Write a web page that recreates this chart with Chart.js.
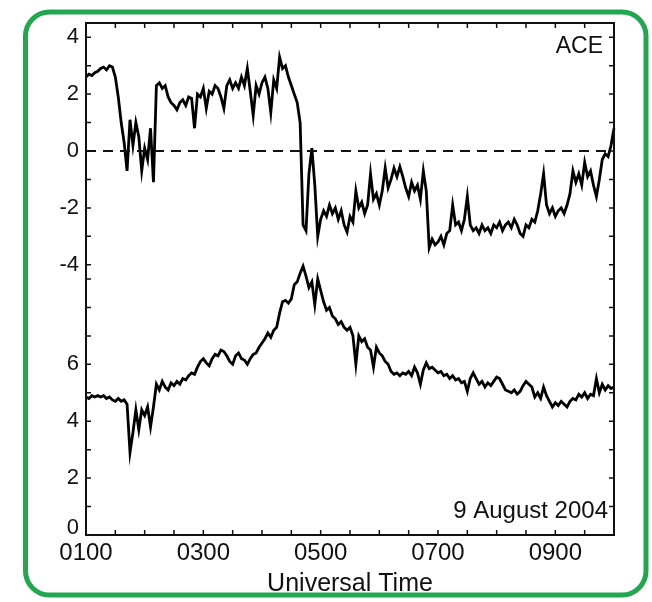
<!DOCTYPE html>
<html>
<head>
<meta charset="utf-8">
<script src="https://cdn.jsdelivr.net/npm/chart.js@4.4.1/dist/chart.umd.min.js"></script>
<style>
  html, body { margin: 0; padding: 0; background: #fff; }
</style>
</head>
<body>
<canvas id="myChart" width="652" height="602"></canvas>
<script>
// sampled every 3 minutes from 0100 to 1000 UT
const stepMinutes = 3;

const upperVals = [
  2.6, 2.7, 2.65, 2.75, 2.8, 2.9, 2.95, 2.85, 3.0, 2.95,
  2.6, 1.9, 1.0, 0.3, -0.7, 1.1, 0.2, 1.0, 0.5, -0.7,
  0.1, -0.3, 0.8, -1.1, 2.3, 2.4, 2.2, 2.3, 1.9, 1.7,
  1.6, 1.45, 1.7, 1.8, 1.6, 1.9, 1.85, 0.8, 2.0, 1.9,
  2.2, 1.5, 2.1, 2.0, 2.3, 2.2, 1.9, 1.5, 2.3, 2.5,
  2.2, 2.4, 2.2, 2.6, 2.3, 2.9, 2.1, 1.25, 2.3, 2.0,
  2.4, 2.6, 2.2, 1.35, 2.5, 2.2, 3.3, 2.9, 3.0, 2.6,
  2.3, 2.0, 1.7, 1.0, -2.6, -2.8, -0.8, 0.1, -1.2, -3.0,
  -2.4, -2.1, -2.3, -1.9, -2.2, -2.0, -2.4, -2.1, -2.6, -2.85,
  -2.3, -2.5, -1.4, -2.0, -1.8, -2.2, -1.9, -0.8, -1.7, -1.5,
  -1.9, -1.4, -0.6, -1.3, -1.0, -0.6, -0.9, -0.55, -0.9, -1.3,
  -1.6, -1.1, -1.4, -1.2, -1.7, -0.7, -1.4, -3.4, -3.1, -3.3,
  -3.2, -3.0, -3.3, -2.9, -2.8, -1.9, -2.6, -2.5, -2.8, -2.4,
  -1.6, -2.6, -2.8, -2.7, -2.9, -2.6, -2.8, -2.7, -2.9, -2.6,
  -2.7, -2.5, -2.8, -2.6, -2.5, -2.7, -2.4, -2.6, -2.9, -3.0,
  -2.6, -2.7, -2.4, -2.5, -2.1, -1.5, -0.8, -1.9, -2.2, -2.0,
  -2.3, -2.1, -2.0, -2.2, -1.9, -1.5, -0.7, -1.1, -0.8, -1.2,
  -0.4, -0.9, -0.7, -1.2, -1.6, -1.0, -0.3, -0.1, -0.2, 0.2,
  0.8
];

const lowerVals = [
  4.85, 4.8, 4.9, 4.85, 4.9, 4.85, 4.9, 4.8, 4.85, 4.75,
  4.7, 4.8, 4.7, 4.75, 4.6, 2.9, 3.6, 4.4, 3.7, 4.4,
  4.2, 4.5, 3.8, 4.5, 5.3, 5.1, 5.4, 5.2, 5.1, 5.35,
  5.25, 5.4, 5.3, 5.5, 5.45, 5.6, 5.7, 5.65, 5.9, 6.1,
  6.2, 6.05, 5.95, 6.2, 6.35, 6.3, 6.5, 6.45, 6.3, 6.1,
  6.0, 6.3, 6.4, 6.2, 6.15, 6.0, 6.2, 6.35, 6.4, 6.6,
  6.75, 6.9, 7.1, 6.95, 7.2, 7.3, 7.8, 8.2, 8.25, 8.15,
  8.3, 8.8, 8.9, 9.2, 9.45, 9.1, 8.7, 8.9, 8.1, 9.0,
  8.6, 8.2, 7.9, 8.0, 7.7, 7.6, 7.4, 7.5, 7.3, 7.2,
  7.3, 7.0, 6.0, 7.0, 6.8, 6.9, 6.6, 6.5, 5.9, 6.6,
  6.4, 6.3, 6.1, 6.0, 5.75, 5.65, 5.7, 5.6, 5.7, 5.65,
  5.75, 5.6, 5.9, 5.7, 5.3, 5.8, 6.05, 5.85, 5.9, 5.8,
  5.7, 5.75, 5.6, 5.65, 5.5, 5.6, 5.45, 5.5, 5.35, 5.4,
  5.05, 5.5, 5.7, 5.5, 5.3, 5.4, 5.2, 5.35, 5.25, 5.4,
  5.55, 5.5, 5.3, 5.1, 5.05, 5.0, 5.1, 4.95, 5.05, 5.25,
  5.4, 5.3, 5.2, 4.85, 5.0, 4.8, 5.2, 4.9, 4.7, 4.5,
  4.65, 4.55, 4.7, 4.6, 4.5, 4.7, 4.8, 4.75, 4.95, 4.85,
  5.0, 4.8, 4.95, 4.9, 5.5, 5.0, 5.3, 5.1, 5.25, 5.15,
  5.2
];

const hours = upperVals.map((v, i) => 1 + i * stepMinutes / 60);

// axis ticks
const xTickHours = [1, 1.5, 2, 2.5, 3, 3.5, 4, 4.5, 5, 5.5, 6, 6.5, 7, 7.5, 8, 8.5, 9, 9.5, 10];
const xLabelHours = [1, 3, 5, 7, 9];
const upperTicks = [-4, -3, -2, -1, 0, 1, 2, 3, 4];
const upperLabels = [-4, -2, 0, 2, 4];
const lowerTicks = [0, 1, 2, 3, 4, 5, 6, 7, 8, 9];
const lowerLabels = [2, 4, 6];   // the 0 sits above the corner, drawn in the plugin

const FONT = '"Liberation Sans", Arial, Helvetica, sans-serif';
const INK = '#111';

const framePlugin = {
  id: 'framePlugin',
  beforeDraw(chart) {
    const c = chart.ctx;
    c.save();
    c.strokeStyle = '#22a750';
    c.lineWidth = 5;
    c.beginPath();
    c.roundRect(25.5, 12, 620.5, 583, 24);
    c.stroke();
    c.restore();
  },
  afterDraw(chart) {
    const c = chart.ctx;
    const a = chart.chartArea;
    const s = chart.scales;
    c.save();
    c.strokeStyle = INK;
    c.lineWidth = 1.5;
    c.beginPath();
    xTickHours.forEach(h => {
      const px = s.x.getPixelForValue(h);
      c.moveTo(px, a.bottom); c.lineTo(px, a.bottom - 5);
      c.moveTo(px, a.top); c.lineTo(px, a.top + 5);
    });
    upperTicks.forEach(v => {
      const py = s.yU.getPixelForValue(v);
      c.moveTo(a.left, py); c.lineTo(a.left + 5, py);
      c.moveTo(a.right, py); c.lineTo(a.right - 5, py);
    });
    lowerTicks.forEach(v => {
      const py = s.yL.getPixelForValue(v);
      c.moveTo(a.left, py); c.lineTo(a.left + 5, py);
      c.moveTo(a.right, py); c.lineTo(a.right - 5, py);
    });
    c.stroke();
    c.lineWidth = 2;
    c.strokeRect(a.left, a.top, a.right - a.left, a.bottom - a.top);

    c.fillStyle = INK;
    c.textAlign = 'right';
    c.textBaseline = 'alphabetic';
    c.font = '22px ' + FONT;
    c.fillText('0', a.left - 7, s.yL.getPixelForValue(0) - 1);
    c.font = '23px ' + FONT;
    c.fillText('ACE', a.right - 11, a.top + 30);
    c.font = '24px ' + FONT;
    c.fillText('9 August 2004', a.right - 6, a.bottom - 17);
    c.restore();
  }
};

function setTicks(list) {
  return scale => { scale.ticks = list.map(v => ({ value: v })); };
}

const noGrid = { display: false, drawTicks: false, tickLength: 0 };

const ctx = document.getElementById('myChart').getContext('2d');
const myChart = new Chart(ctx, {
  type: 'line',
  data: {
    datasets: [
      {
        label: 'zero',
        data: [{ x: 1, y: 0 }, { x: 10, y: 0 }],
        yAxisID: 'yU',
        borderColor: INK,
        borderWidth: 2,
        borderDash: [10, 7],
        pointRadius: 0
      },
      {
        label: 'upper',
        data: hours.map((h, i) => ({ x: h, y: upperVals[i] })),
        yAxisID: 'yU',
        borderColor: '#000',
        borderWidth: 2.8,
        pointRadius: 0,
        tension: 0,
        clip: false
      },
      {
        label: 'lower',
        data: hours.map((h, i) => ({ x: h, y: lowerVals[i] })),
        yAxisID: 'yL',
        borderColor: '#000',
        borderWidth: 2.8,
        pointRadius: 0,
        tension: 0,
        clip: false
      }
    ]
  },
  options: {
    responsive: false,
    animation: false,
    devicePixelRatio: 1,
    layout: { padding: { left: 0, top: 23, right: 38, bottom: 0 } },
    plugins: {
      legend: { display: false },
      tooltip: { enabled: false }
    },
    scales: {
      x: {
        type: 'linear',
        min: 1,
        max: 10,
        grid: noGrid,
        border: { display: false },
        afterBuildTicks: setTicks(xTickHours),
        afterFit: s => { s.height = 67; },
        ticks: {
          autoSkip: false,
          maxRotation: 0,
          padding: 4,
          color: INK,
          font: { family: FONT, size: 24 },
          callback: v => xLabelHours.includes(v) ? String(v).padStart(2, '0') + '00' : ''
        },
        title: {
          display: true,
          text: 'Universal Time',
          color: INK,
          font: { family: FONT, size: 25 },
          padding: { top: 0, bottom: 3 }
        }
      },
      yL: {
        type: 'linear',
        position: 'left',
        stack: 'panels',
        stackWeight: 1,
        weight: 0,
        min: 0,
        max: 9,
        grid: noGrid,
        border: { display: false },
        afterBuildTicks: setTicks(lowerTicks),
        afterFit: s => { s.width = 86; },
        ticks: {
          padding: 7,
          color: INK,
          font: { family: FONT, size: 22 },
          callback: v => lowerLabels.includes(v) ? String(v) : ''
        }
      },
      yU: {
        type: 'linear',
        position: 'left',
        stack: 'panels',
        stackWeight: 1,
        weight: 1,
        min: -4.5,
        max: 4.5,
        grid: noGrid,
        border: { display: false },
        afterBuildTicks: setTicks(upperTicks),
        afterFit: s => { s.width = 86; },
        ticks: {
          padding: 7,
          color: INK,
          font: { family: FONT, size: 22 },
          callback: v => upperLabels.includes(v) ? String(v) : ''
        }
      }
    }
  },
  plugins: [framePlugin]
});
</script>
</body>
</html>
